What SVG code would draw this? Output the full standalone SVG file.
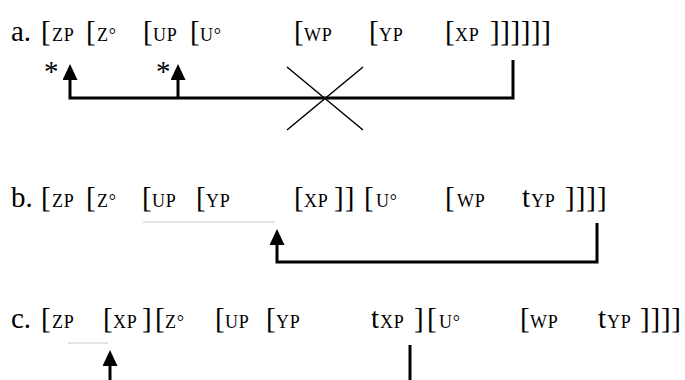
<svg xmlns="http://www.w3.org/2000/svg" width="685" height="380" viewBox="0 0 685 380">
<style>
text{font-family:"Liberation Serif","Times New Roman",serif;fill:#000}
.b{font-size:29px}
.s{font-size:18px;letter-spacing:0.8px}
.c{fill:none;stroke:#000;stroke-width:3}
.x{fill:none;stroke:#000;stroke-width:1.5}
.g{fill:none;stroke:#c8c8c8;stroke-width:1}
</style>
<defs>
<marker id="ah" viewBox="0 0 16 15" refX="1" refY="7.5" markerWidth="16" markerHeight="15" markerUnits="userSpaceOnUse" orient="auto">
<path d="M0,0 L16,7.5 L0,15 z" fill="#000"/>
</marker>
</defs>
<g id="row-a">
<text class="b" x="11" y="41">a.</text>
<text class="b" x="41" y="41">[</text><text class="s" x="52" y="41">ZP</text>
<text class="b" x="86" y="41">[</text><text class="s" x="97" y="41">Z°</text>
<text class="b" x="143" y="41">[</text><text class="s" x="153" y="41">UP</text>
<text class="b" x="190" y="41">[</text><text class="s" x="200" y="41">U°</text>
<text class="b" x="294" y="41">[</text><text class="s" x="304" y="41">WP</text>
<text class="b" x="369" y="41">[</text><text class="s" x="379" y="41">YP</text>
<text class="b" x="445" y="41">[</text><text class="s" x="455" y="41">XP</text>
<text class="b" x="490" y="41" letter-spacing="0.6">]]]]]]</text>
<text class="b" x="44" y="81">*</text>
<text class="b" x="156" y="81">*</text>
</g>
<g id="row-b">
<text class="b" x="11" y="207">b.</text>
<text class="b" x="41" y="207">[</text><text class="s" x="52" y="207">ZP</text>
<text class="b" x="86" y="207">[</text><text class="s" x="97" y="207">Z°</text>
<text class="b" x="142" y="207">[</text><text class="s" x="152" y="207">UP</text>
<text class="b" x="196" y="207">[</text><text class="s" x="206" y="207">YP</text>
<text class="b" x="294" y="207">[</text><text class="s" x="304" y="207">XP</text>
<text class="b" x="334" y="207" letter-spacing="1">]]</text>
<text class="b" x="364" y="207">[</text><text class="s" x="376" y="207">U°</text>
<text class="b" x="445" y="207">[</text><text class="s" x="457" y="207">WP</text>
<text class="b" x="522" y="207">t</text><text class="s" x="531" y="207">YP</text>
<text class="b" x="565" y="207" letter-spacing="1">]]]]</text>
</g>
<g id="row-c">
<text class="b" x="11" y="328">c.</text>
<text class="b" x="41" y="328">[</text><text class="s" x="52" y="328">ZP</text>
<text class="b" x="103" y="328">[</text><text class="s" x="113" y="328">XP</text>
<text class="b" x="142" y="328">]</text>
<text class="b" x="155" y="328">[</text><text class="s" x="165" y="328">Z°</text>
<text class="b" x="215" y="328">[</text><text class="s" x="225" y="328">UP</text>
<text class="b" x="266" y="328">[</text><text class="s" x="276" y="328">YP</text>
<text class="b" x="371" y="328">t</text><text class="s" x="380" y="328">XP</text>
<text class="b" x="414" y="328">]</text>
<text class="b" x="427" y="328">[</text><text class="s" x="439" y="328">U°</text>
<text class="b" x="520" y="328">[</text><text class="s" x="530" y="328">WP</text>
<text class="b" x="598" y="328">t</text><text class="s" x="607" y="328">YP</text>
<text class="b" x="640" y="328" letter-spacing="0.8">]]]]</text>
</g>
<g id="connectors">
<path class="c" d="M513,60 V98 H70 V79" marker-end="url(#ah)"/>
<path class="c" d="M178,98 V79" marker-end="url(#ah)"/>
<path class="x" d="M287,67 L363,130 M287,130 L363,67"/>
<path class="g" d="M143,222 H275"/>
<path class="c" d="M597,223 V262 H277 V244" marker-end="url(#ah)"/>
<path class="g" d="M68,343 H108"/>
<path class="c" d="M110,380 V365" marker-end="url(#ah)"/>
<path class="c" d="M410,345 V380"/>
</g>
</svg>
